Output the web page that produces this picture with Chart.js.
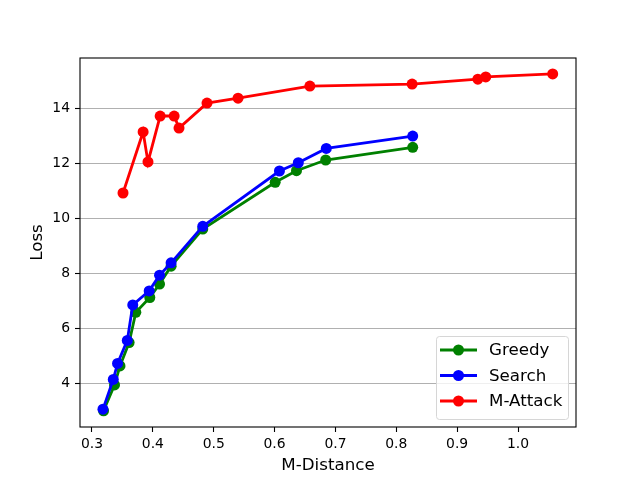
<!DOCTYPE html>
<html>
<head>
<meta charset="utf-8">
<script src="https://cdn.jsdelivr.net/npm/chart.js@4.4.0/dist/chart.umd.min.js"></script>
<style>
    html, body { margin: 0; padding: 0; background: #ffffff; }
    #wrap { width: 640px; height: 480px; }
</style>
</head>
<body>
<div id="wrap"><canvas id="lossChart" width="640" height="480"></canvas></div>
<script>
// values
const greedyX = [0.319, 0.337, 0.346, 0.361, 0.372, 0.395, 0.411, 0.430, 0.482, 0.601, 0.636, 0.684, 0.827];
const greedyY = [2.99, 3.93, 4.62, 5.47, 6.57, 7.11, 7.60, 8.25, 9.60, 11.30, 11.72, 12.11, 12.57];

const searchX = [0.318, 0.335, 0.342, 0.358, 0.367, 0.394, 0.411, 0.430, 0.482, 0.608, 0.639, 0.685, 0.827];
const searchY = [3.05, 4.13, 4.71, 5.55, 6.84, 7.35, 7.92, 8.37, 9.70, 11.71, 12.01, 12.53, 12.98];

const attackX = [0.351, 0.384, 0.392, 0.412, 0.435, 0.443, 0.489, 0.540, 0.658, 0.826, 0.934, 0.947, 1.057];
const attackY = [10.91, 13.13, 12.04, 13.71, 13.71, 13.27, 14.18, 14.36, 14.80, 14.87, 15.05, 15.13, 15.24];

const seriesNames = ['Greedy', 'Search', 'M-Attack'];
const xTicks = [0.3, 0.4, 0.5, 0.6, 0.7, 0.8, 0.9, 1.0];
const yTicks = [4, 6, 8, 10, 12, 14];

const font = 'DejaVu Sans';

function toPoints(xs, ys) {
    return xs.map((x, i) => ({ x: x, y: ys[i] }));
}

function lineSet(label, xs, ys, color, order) {
    return {
        label: label,
        data: toPoints(xs, ys),
        borderColor: color,
        backgroundColor: color,
        borderWidth: 2.8,
        pointRadius: 5.5,
        pointHoverRadius: 5.5,
        pointBorderWidth: 0,
        pointBackgroundColor: color,
        showLine: true,
        tension: 0,
        clip: false,
        order: order
    };
}

// matplotlib-like frame + legend box in the lower right
const frameAndLegend = {
    id: 'frameAndLegend',
    afterDraw(chart) {
        const c = chart.ctx;
        const a = chart.chartArea;
        c.save();
        c.strokeStyle = '#000000';
        c.lineWidth = 1.1;
        c.strokeRect(a.left, a.top, a.right - a.left, a.bottom - a.top);

        const boxX = 436, boxY = 336, boxW = 132, boxH = 83;
        c.fillStyle = 'rgba(255,255,255,0.8)';
        c.strokeStyle = '#d6d6d6';
        c.lineWidth = 1;
        c.beginPath();
        c.roundRect(boxX + 0.5, boxY + 0.5, boxW, boxH, 3);
        c.fill();
        c.stroke();

        c.font = '16.7px "' + font + '"';
        c.textBaseline = 'middle';
        c.textAlign = 'left';
        chart.data.datasets.forEach((ds, i) => {
            const yy = boxY + 14 + i * 25.5;
            c.strokeStyle = ds.borderColor;
            c.lineWidth = 2.8;
            c.beginPath();
            c.moveTo(440, yy);
            c.lineTo(477, yy);
            c.stroke();
            c.fillStyle = ds.borderColor;
            c.beginPath();
            c.arc(458.5, yy, 5.5, 0, Math.PI * 2);
            c.fill();
            c.fillStyle = '#000000';
            c.fillText(ds.label, 489, yy + 1);
        });
        c.restore();
    }
};

const ctx = document.getElementById('lossChart');

new Chart(ctx, {
    type: 'scatter',
    data: {
        datasets: [
            lineSet(seriesNames[0], greedyX, greedyY, '#008000', 3),
            lineSet(seriesNames[1], searchX, searchY, '#0000ff', 2),
            lineSet(seriesNames[2], attackX, attackY, '#ff0000', 1)
        ]
    },
    options: {
        responsive: false,
        animation: false,
        events: [],
        layout: { padding: { left: 0, top: 58, right: 64, bottom: 0 } },
        plugins: {
            legend: { display: false },
            tooltip: { enabled: false }
        },
        scales: {
            x: {
                type: 'linear',
                min: 0.2803,
                max: 1.0953,
                afterBuildTicks: (s) => { s.ticks = xTicks.map(v => ({ value: v })); },
                afterFit: (s) => { s.height = 53; },
                border: { display: false },
                grid: {
                    drawOnChartArea: false,
                    tickColor: '#000000',
                    tickLength: 5,
                    tickWidth: 1.1
                },
                ticks: {
                    color: '#000000',
                    font: { family: font, size: 13.9 },
                    padding: 4,
                    maxRotation: 0,
                    autoSkip: false,
                    callback: (v) => v.toFixed(1)
                },
                title: {
                    display: true,
                    text: 'M-Distance',
                    color: '#000000',
                    font: { family: font, size: 16.7 },
                    padding: { top: 0, bottom: 4 }
                }
            },
            y: {
                type: 'linear',
                min: 2.4,
                max: 15.82,
                afterBuildTicks: (s) => { s.ticks = yTicks.map(v => ({ value: v })); },
                afterFit: (s) => { s.width = 80; },
                border: { display: false },
                grid: {
                    color: '#b0b0b0',
                    lineWidth: 1,
                    tickColor: '#000000',
                    tickLength: 5,
                    tickWidth: 1.1
                },
                ticks: {
                    color: '#000000',
                    font: { family: font, size: 13.9 },
                    padding: 5,
                    autoSkip: false,
                    callback: (v) => String(v)
                },
                title: {
                    display: true,
                    text: 'Loss',
                    color: '#000000',
                    font: { family: font, size: 16.7 },
                    padding: { top: 28, bottom: 0 }
                }
            }
        }
    },
    plugins: [frameAndLegend]
});
</script>
</body>
</html>
